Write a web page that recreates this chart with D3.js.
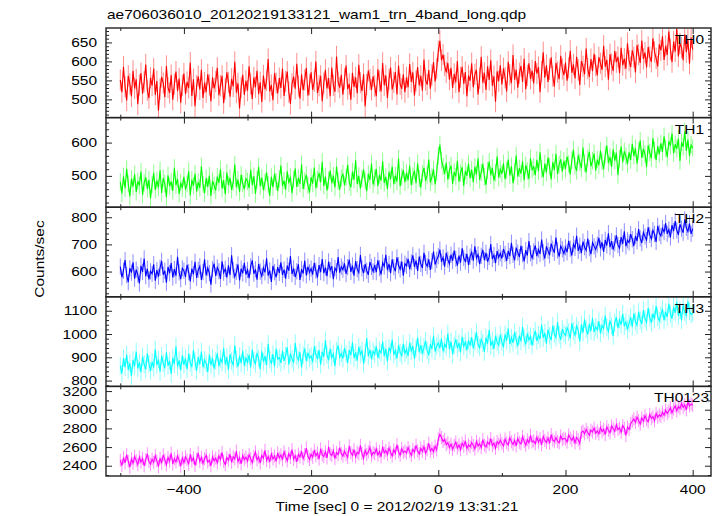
<!DOCTYPE html>
<html><head><meta charset="utf-8">
<script src="https://cdn.jsdelivr.net/npm/d3@7"></script>
<style>body{margin:0;background:#fff} text{font-family:"Liberation Sans",Arial,Helvetica,sans-serif;fill:#000}</style>
</head><body>
<svg id="c" width="718" height="516"></svg>
<script>
const title = "ae706036010_20120219133121_wam1_trn_4band_long.qdp";
const xLabel = "Time [sec] 0 = 2012/02/19 13:31:21";
const yLabel = "Counts/sec";
const bands = ["TH0","TH1","TH2","TH3","TH0123"];
const colors = ["#ff0000","#00ff00","#0000ff","#00ffff","#ff00ff"];
const tStart = -500, binSec = 2.5;

const th0 = [
551,519,586,533,497,562,541,508,575,529,553,487,538,569,515,546,592,524,503,557,
536,581,512,548,470,527,559,543,506,588,531,517,564,499,540,573,522,555,491,537,
568,514,546,530,597,509,553,482,535,561,526,578,504,544,519,566,538,495,558,529,
547,583,511,536,562,490,528,571,545,507,554,534,599,518,542,476,531,565,512,549,
523,587,540,501,558,532,575,514,545,493,563,527,550,606,521,538,498,569,543,516,
556,530,581,509,547,573,519,488,541,560,528,594,535,502,566,524,551,583,510,539,
571,525,548,600,517,536,562,495,543,578,529,556,508,584,537,520,613,546,531,565,
512,554,589,527,541,499,570,533,558,516,591,544,522,567,482,539,576,552,525,561,
535,508,579,548,521,596,537,563,504,553,584,526,545,572,513,589,540,528,566,519,
558,532,593,546,571,510,549,585,537,562,523,605,551,539,577,528,564,598,547,581,
627,654,603,618,589,571,596,552,583,530,567,545,601,519,558,586,541,572,508,563,
549,595,532,566,578,513,556,612,544,570,525,587,551,603,536,561,494,574,548,590,
539,582,557,521,599,565,543,617,552,578,531,569,588,546,607,527,563,595,554,576,
542,601,568,585,519,573,624,557,590,546,579,611,561,534,596,572,553,615,580,564,
597,549,583,628,570,592,555,612,578,538,601,587,566,634,581,559,606,574,620,589,
563,611,595,578,641,586,604,552,619,593,575,627,598,612,569,636,590,607,581,648,
602,585,629,611,571,643,618,596,655,607,623,584,638,612,599,661,625,608,587,645,
629,666,604,641,617,679,632,598,652,626,685,613,647,636,603,671,624,658,594,663,
631];
const th1 = [
482,447,499,463,521,476,438,491,468,505,452,484,471,513,443,479,496,461,488,432,
474,509,458,486,465,517,449,493,477,436,502,469,483,455,524,472,491,446,480,463,
497,459,476,514,441,488,470,506,453,482,464,529,475,448,493,467,501,440,485,471,
456,498,479,520,462,487,445,510,473,494,458,481,534,466,489,451,503,477,460,492,
484,463,518,472,499,446,488,527,469,495,457,481,511,474,440,497,466,507,483,455,
491,531,470,486,459,514,478,497,448,489,522,467,494,476,535,461,485,503,472,450,
496,477,525,463,490,509,481,542,470,498,456,487,516,478,501,465,528,484,459,493,
507,472,495,533,481,466,513,489,547,476,500,462,492,519,485,454,506,488,537,474,
494,521,470,503,486,544,479,497,461,512,490,528,475,501,483,552,469,496,518,481,
509,487,531,472,499,516,478,538,492,465,507,524,485,503,549,480,497,520,474,511,
561,593,547,528,506,539,489,517,531,476,512,498,545,483,508,526,470,515,501,537,
493,519,481,527,504,552,488,511,536,497,473,516,543,502,524,486,509,558,495,520,
506,538,490,517,549,501,529,478,512,561,498,523,507,544,487,532,515,491,553,519,
527,502,548,514,571,521,496,537,510,555,528,489,541,518,566,505,534,550,513,545,
521,558,536,504,547,579,530,515,562,541,523,585,538,510,553,572,529,546,567,516,
549,532,576,543,520,563,591,538,557,527,580,546,569,503,552,588,541,574,559,535,
571,548,596,560,583,537,575,606,554,581,566,527,592,570,553,613,577,548,589,565,
598,572,619,583,556,604,590,627,568,595,581,612,545,601,587,634,575,609,560,593,
584];
const th2 = [
618,579,603,642,587,561,612,596,634,574,607,589,556,621,599,648,583,610,571,601,
592,627,566,605,581,614,639,588,603,559,617,594,631,578,609,585,654,597,572,612,
603,580,625,598,564,611,590,636,577,606,619,569,598,645,586,613,594,552,608,629,
584,615,601,573,638,596,610,578,623,587,660,605,581,599,626,567,611,593,632,589,
606,576,619,641,592,608,570,628,600,583,614,597,649,585,604,562,621,598,579,616,
595,634,588,607,574,622,603,657,591,612,580,601,627,569,609,593,640,586,618,597,
611,589,632,603,578,624,598,646,594,615,583,637,605,620,572,613,601,653,596,618,
607,630,591,616,644,599,622,585,638,609,596,661,612,594,627,603,588,635,617,600,
624,598,641,612,589,633,619,662,605,628,594,645,616,601,652,623,608,637,585,629,
621,647,609,634,660,617,640,602,655,628,613,669,632,619,645,606,638,674,626,643,
657,681,636,652,618,669,644,628,662,639,677,647,622,659,633,686,650,637,665,624,
655,671,640,693,649,663,627,658,680,642,669,636,654,701,646,661,631,675,652,667,
648,683,665,639,676,657,706,662,641,688,670,653,695,664,637,679,659,712,667,650,
674,696,657,681,665,718,671,648,692,677,660,703,684,669,725,678,655,694,682,666,
689,671,713,684,659,701,687,732,676,695,668,710,690,678,721,686,664,707,693,681,
699,724,685,708,672,717,696,741,690,712,681,704,733,698,686,727,702,748,693,715,
707,738,719,694,731,712,756,722,705,744,729,716,763,735,720,752,738,709,768,742,
731,760,745,778,739,755,726,771,749,786,752,735,774,758,743,792,761,747,777,739,
758];
const th3 = [
864,831,897,858,912,846,875,819,889,861,925,852,878,836,903,869,848,917,873,842,
880,856,934,867,891,838,906,875,853,921,864,884,829,898,871,947,860,887,845,908,
868,895,849,916,876,858,931,882,843,901,870,925,857,889,874,836,912,866,898,851,
885,917,862,894,878,940,869,901,847,913,883,868,952,891,859,906,875,928,864,897,
879,911,856,933,887,872,919,895,849,926,881,905,866,958,890,874,914,861,937,892,
899,876,929,885,907,943,868,916,893,877,961,904,888,922,856,910,938,883,919,897,
906,879,947,913,892,931,868,924,902,973,910,887,936,898,915,862,928,951,900,917,
895,939,914,876,932,909,964,897,921,886,945,912,928,871,918,983,905,933,892,926,
913,947,898,930,919,968,905,936,882,941,924,976,911,929,895,953,920,907,959,917,
934,906,962,927,948,893,939,985,921,952,915,944,971,929,908,956,937,992,925,949,
962,939,981,926,957,944,1002,935,968,913,951,977,940,962,921,988,947,966,931,973,
950,986,938,967,1009,955,942,978,961,923,985,958,1017,949,971,936,992,964,951,997,
966,943,999,972,1024,957,985,962,1008,976,948,993,969,1031,981,955,1003,974,990,951,
988,1014,970,996,978,1041,983,1005,959,1019,992,974,1036,1000,985,1052,997,975,1022,1003,
993,1027,1008,981,1046,1012,995,1035,1017,968,1040,1006,1063,1021,998,1044,1013,1070,1009,1031,
1018,1055,1003,1037,1024,1079,1029,1011,1058,1035,992,1049,1072,1026,1061,1040,1087,1033,1052,1020,
1046,1072,1031,1089,1054,1038,1096,1060,1043,1103,1066,1050,1112,1071,1049,1088,1063,1121,1075,1057,
1082,1108,1060,1095,1073,1130,1087,1066,1117,1091,1138,1078,1101,1059,1124,1093,1079,1141,1098,1084,
1090];
const th0123 = [
2458,2402,2487,2431,2519,2447,2384,2473,2426,2501,2455,2412,2492,2438,2479,2398,2465,2528,2444,2417,
2471,2436,2508,2453,2391,2482,2427,2516,2462,2409,2489,2448,2534,2419,2476,2441,2503,2458,2395,2484,
2432,2497,2463,2414,2521,2450,2485,2403,2469,2537,2444,2491,2425,2474,2512,2437,2460,2399,2495,2452,
2481,2429,2506,2466,2542,2447,2412,2488,2459,2523,2435,2497,2472,2556,2443,2486,2420,2509,2465,2492,
2451,2518,2476,2433,2502,2547,2463,2494,2428,2511,2480,2565,2457,2499,2441,2526,2473,2505,2447,2538,
2484,2516,2462,2549,2497,2453,2531,2488,2574,2470,2508,2442,2523,2493,2557,2476,2519,2589,2501,2467,
2524,2490,2566,2507,2537,2471,2582,2515,2498,2551,2483,2603,2526,2509,2561,2477,2542,2518,2595,2530,
2503,2557,2521,2488,2612,2539,2511,2574,2496,2545,2527,2618,2532,2480,2566,2519,2549,2597,2508,2543,
2528,2581,2514,2552,2496,2604,2537,2563,2520,2589,2545,2505,2571,2533,2625,2549,2512,2584,2540,2558,
2536,2595,2551,2509,2577,2543,2619,2560,2527,2588,2553,2606,2531,2572,2641,2557,2585,2548,2610,2569,
2688,2735,2702,2659,2683,2627,2648,2596,2631,2575,2618,2654,2589,2623,2571,2642,2608,2667,2584,2625,
2603,2648,2617,2580,2662,2611,2637,2593,2679,2620,2601,2655,2628,2691,2614,2643,2586,2659,2632,2674,
2639,2610,2686,2645,2623,2701,2657,2628,2672,2612,2693,2650,2634,2712,2661,2619,2680,2646,2725,2655,
2668,2633,2706,2652,2689,2624,2714,2671,2648,2697,2639,2733,2676,2657,2701,2662,2645,2720,2679,2694,
2686,2653,2729,2697,2671,2711,2644,2703,2678,2638,2758,2772,2741,2789,2756,2727,2781,2762,2803,2748,
2774,2741,2809,2765,2790,2733,2818,2779,2752,2827,2796,2768,2839,2787,2806,2758,2832,2801,2724,2815,
2788,2851,2876,2902,2864,2921,2885,2847,2913,2878,2936,2893,2869,2949,2906,2927,2881,2962,2919,2944,
2928,2975,2941,2997,2958,2986,3021,2967,3009,3042,2989,3035,3012,3068,3026,3053,2998,3081,3040,3062,
3048];
const seriesValues = [th0, th1, th2, th3, th0123];
const errors = [28, 26, 30, 38, 70];

const xDomain = [-522.5, 428.8];
const xMajor = [-400, -200, 0, 200, 400];
const xMinor = [-500, -300, -100, 100, 300];
const yDomains = [[452, 688], [406, 675], [507, 837], [775, 1160], [2290, 3250]];
const yMajor = [[500, 550, 600, 650], [500, 600], [600, 700, 800], [800, 900, 1000, 1100], [2400, 2600, 2800, 3000, 3200]];
const yMinorStep = [10, 20, 20, 20, 100];

// layout
const L = 106, R = 711, T = 28, B = 476;
const nP = 5, pH = (B - T) / nP;
const FS = 13, SX = 1.19;
const svg = d3.select("#c");
const fmt = d3.format("");

function txt(x, y, s, anchor, rot) {
  return svg.append("text")
    .attr("transform", `translate(${x},${y})` + (rot ? ` rotate(${rot})` : "") + ` scale(${SX},1)`)
    .attr("text-anchor", anchor || "start")
    .attr("font-size", FS)
    .text(s);
}

const x = d3.scaleLinear().domain(xDomain).range([L, R]);
const defs = svg.append("defs");

seriesValues.forEach((vals, i) => {
  const top = T + i * pH, bot = top + pH;
  const y = d3.scaleLinear().domain(yDomains[i]).range([bot, top]);
  const pts = vals.map((v, k) => ({t: tStart + k * binSec, v}));
  const cid = "clip" + i;
  defs.append("clipPath").attr("id", cid).append("rect")
    .attr("x", L).attr("y", top).attr("width", R - L).attr("height", pH);
  const g = svg.append("g").attr("clip-path", `url(#${cid})`);
  const e = errors[i];
  g.selectAll("line.err").data(pts).enter().append("line")
    .attr("x1", d => x(d.t)).attr("x2", d => x(d.t))
    .attr("y1", d => y(d.v - e)).attr("y2", d => y(d.v + e))
    .attr("stroke", colors[i]).attr("stroke-opacity", 0.45).attr("stroke-width", 1);
  g.append("path").datum(pts)
    .attr("d", d3.line().x(d => x(d.t)).y(d => y(d.v)))
    .attr("fill", "none").attr("stroke", colors[i]).attr("stroke-width", 1.1);

  const minors = d3.range(Math.ceil(yDomains[i][0] / yMinorStep[i]) * yMinorStep[i], yDomains[i][1], yMinorStep[i])
    .filter(v => !yMajor[i].includes(v));
  const tickG = svg.append("g");
  const mk = (axis, vals, size) => axis.tickValues(vals).tickSizeInner(-size).tickSizeOuter(0).tickFormat("");
  [[d3.axisLeft, L], [d3.axisRight, R]].forEach(([ax, pos]) => {
    const a1 = tickG.append("g").attr("transform", `translate(${pos},0)`).call(mk(ax(y), yMajor[i], 6));
    const a2 = tickG.append("g").attr("transform", `translate(${pos},0)`).call(mk(ax(y), minors, 3));
    [a1, a2].forEach(a => { a.select(".domain").remove(); a.selectAll("line").attr("stroke", "#222"); });
  });
  [[d3.axisTop, top], [d3.axisBottom, bot]].forEach(([ax, pos]) => {
    const a1 = tickG.append("g").attr("transform", `translate(0,${pos})`).call(mk(ax(x), xMajor, 6));
    const a2 = tickG.append("g").attr("transform", `translate(0,${pos})`).call(mk(ax(x), xMinor, 3));
    [a1, a2].forEach(a => { a.select(".domain").remove(); a.selectAll("line").attr("stroke", "#222"); });
  });
  svg.append("rect").attr("x", L).attr("y", top).attr("width", R - L).attr("height", pH)
    .attr("fill", "none").attr("stroke", "#222").attr("stroke-width", 1.4);

  yMajor[i].forEach(v => txt(97, y(v) + 4.5, fmt(v), "end"));
  txt(i === 4 ? 709 : 704, top + 16, bands[i], "end");
});

xMajor.forEach(v => txt(x(v), 494, fmt(v), "middle"));
txt(107, 19, title, "start");
txt(397, 511, xLabel, "middle");
txt(43.5, 259, yLabel, "middle", -90);
</script>
</body></html>
